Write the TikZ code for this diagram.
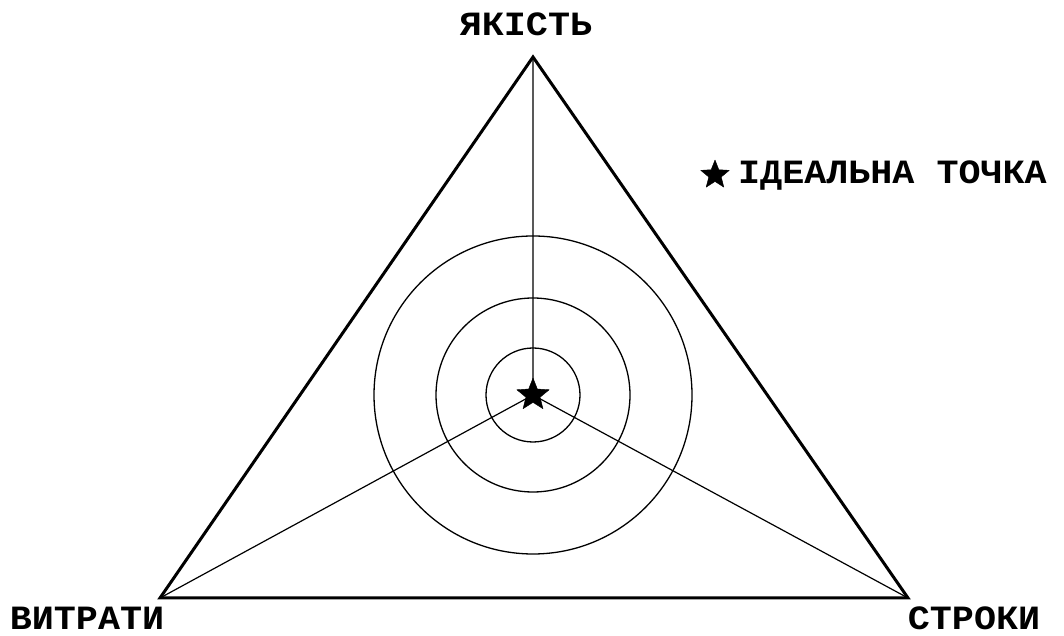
\documentclass[tikz,border=0pt]{standalone}
\usepackage{fontspec}
\newfontfamily\courfont{Liberation Mono}[FakeStretch=1.08]
\usetikzlibrary{shapes.geometric}
\begin{document}
\begin{tikzpicture}[x=1pt,y=1pt,font=\courfont\bfseries\fontsize{34}{34}\selectfont,
  star mark/.style={star,star points=5,star point ratio=2.3,fill=black,draw=black,line join=round,minimum size=34pt,inner sep=0pt},
  label text/.style={anchor=base,inner sep=0pt}]
        \useasboundingbox (0,0) rectangle (1064,636);
        \coordinate (q) at (533,579);
        \coordinate (v) at (160,38);
        \coordinate (s) at (908,38);
        \coordinate (o) at (533,241);
        \draw[line width=1.2pt] (o)--(q) (o)--(v) (o)--(s);
        \foreach \r in {47,97,159} \draw[line width=1.3pt] (o) circle (\r);
        \draw[line width=3pt,line join=miter] (q)--(v)--(s)--cycle;
        \node[star mark] (ideal) at (o) {};
        \node[label text] (qual) at (526,600) {ЯКІСТЬ};
        \node[label text] (cost) at (87,6) {ВИТРАТИ};
        \node[label text] (time) at (974,6) {СТРОКИ};
        \node[star mark,minimum size=30pt] (legstar) at (715,461) {};
        \node[anchor=base west,inner sep=0pt] (legtext) at (738,452) {ІДЕАЛЬНА ТОЧКА};
        \end{tikzpicture}
\end{document}
